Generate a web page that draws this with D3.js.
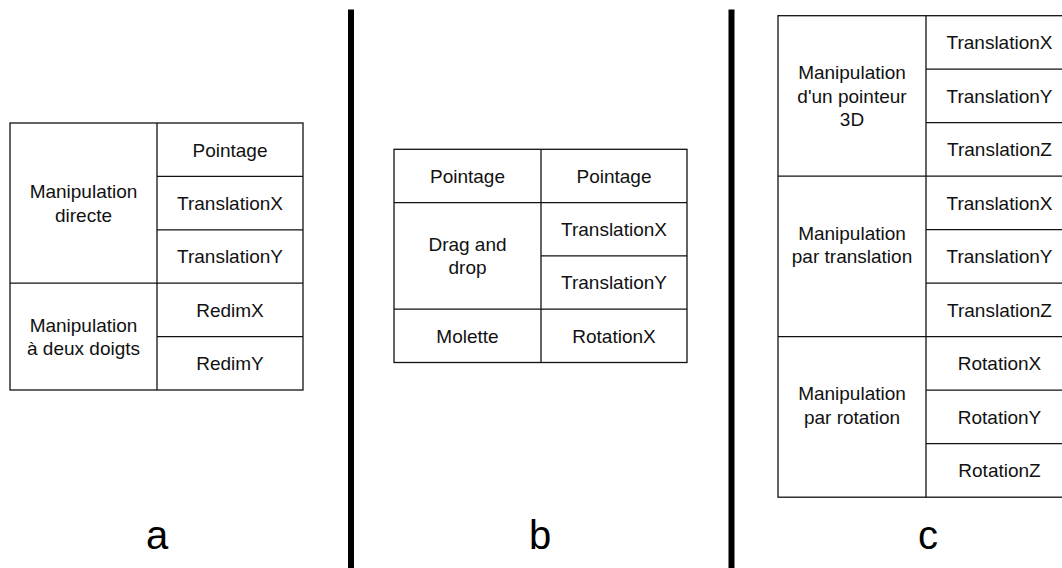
<!DOCTYPE html>
<html>
<head>
<meta charset="utf-8">
<script src="https://cdn.jsdelivr.net/npm/d3@7"></script>
<style>
  html, body { margin: 0; padding: 0; background: #fff; }
  svg { display: block; }
</style>
</head>
<body>
<svg id="chart" width="1062" height="568"></svg>
<script>
// ---- data ----
const panelLabels = ["a", "b", "c"];

const groupsA = [["Manipulation", "directe"], ["Manipulation", "à deux doigts"]];
const itemsA = [["Pointage", "TranslationX", "TranslationY"], ["RedimX", "RedimY"]];

const groupsB = [["Pointage"], ["Drag and", "drop"], ["Molette"]];
const itemsB = [["Pointage"], ["TranslationX", "TranslationY"], ["RotationX"]];

const groupsC = [["Manipulation", "d'un pointeur", "3D"], ["Manipulation", "par translation"], ["Manipulation", "par rotation"]];
const itemsC = [["TranslationX", "TranslationY", "TranslationZ"], ["TranslationX", "TranslationY", "TranslationZ"], ["RotationX", "RotationY", "RotationZ"]];

// ---- layout ----
const svg = d3.select("#chart");
const FONT = "'Liberation Sans', Arial, sans-serif";
const FS = 19, LH = 23.3;

const panels = [
  { groups: groupsA, items: itemsA, x0: 10, x1: 157, x2: 303, top: 123, rowH: 53.4, slots: 1, label: panelLabels[0], labelX: 157 },
  { groups: groupsB, items: itemsB, x0: 394, x1: 541, x2: 687, top: 149.3, rowH: 53.3, slots: 1, label: panelLabels[1], labelX: 540 },
  { groups: groupsC, items: itemsC, x0: 778, x1: 926, x2: 1073, top: 15.7, rowH: 53.5, slots: 3, label: panelLabels[2], labelX: 928 }
];

function drawLines(g, lines, cx, cy, slots) {
  const n = Math.max(lines.length, slots);
  const first = cy - (n - 1) * LH / 2 + FS * 0.36;
  g.append("text")
    .attr("x", cx)
    .attr("text-anchor", "middle")
    .attr("font-family", FONT)
    .attr("font-size", FS)
    .attr("fill", "#111")
    .selectAll("tspan")
    .data(lines)
    .join("tspan")
    .attr("x", cx)
    .attr("y", (d, i) => first + i * LH)
    .text(d => d);
}

panels.forEach(p => {
  const nRows = d3.sum(p.items, d => d.length);
  const y = d3.scaleLinear().domain([0, nRows]).range([p.top, p.top + nRows * p.rowH]);
  const g = svg.append("g");

  // outer box
  g.append("rect")
    .attr("x", p.x0).attr("y", y(0))
    .attr("width", p.x2 - p.x0).attr("height", y(nRows) - y(0))
    .attr("fill", "none").attr("stroke", "#111").attr("stroke-width", 1.3);
  // column divider
  g.append("line")
    .attr("x1", p.x1).attr("x2", p.x1).attr("y1", y(0)).attr("y2", y(nRows))
    .attr("stroke", "#111").attr("stroke-width", 1.3);

  let r = 0;
  p.groups.forEach((grp, gi) => {
    const its = p.items[gi];
    const r0 = r, r1 = r + its.length;
    if (r0 > 0) {
      g.append("line")
        .attr("x1", p.x0).attr("x2", p.x2).attr("y1", y(r0)).attr("y2", y(r0))
        .attr("stroke", "#111").attr("stroke-width", 1.3);
    }
    const slots = its.length >= 3 ? p.slots : 1;
    drawLines(g, grp, (p.x0 + p.x1) / 2, (y(r0) + y(r1)) / 2, slots);
    its.forEach((it, ii) => {
      const ri = r0 + ii;
      if (ii > 0) {
        g.append("line")
          .attr("x1", p.x1).attr("x2", p.x2).attr("y1", y(ri)).attr("y2", y(ri))
          .attr("stroke", "#111").attr("stroke-width", 1.3);
      }
      drawLines(g, [it], (p.x1 + p.x2) / 2, (y(ri) + y(ri + 1)) / 2, 1);
    });
    r = r1;
  });

  svg.append("text")
    .attr("x", p.labelX).attr("y", 549)
    .attr("text-anchor", "middle")
    .attr("font-family", FONT)
    .attr("font-size", 40)
    .attr("fill", "#000")
    .text(p.label);
});

// separators
[351, 731.5].forEach(x => {
  svg.append("line")
    .attr("x1", x).attr("x2", x).attr("y1", 9.5).attr("y2", 568)
    .attr("stroke", "#000").attr("stroke-width", 6);
});
</script>
</body>
</html>
